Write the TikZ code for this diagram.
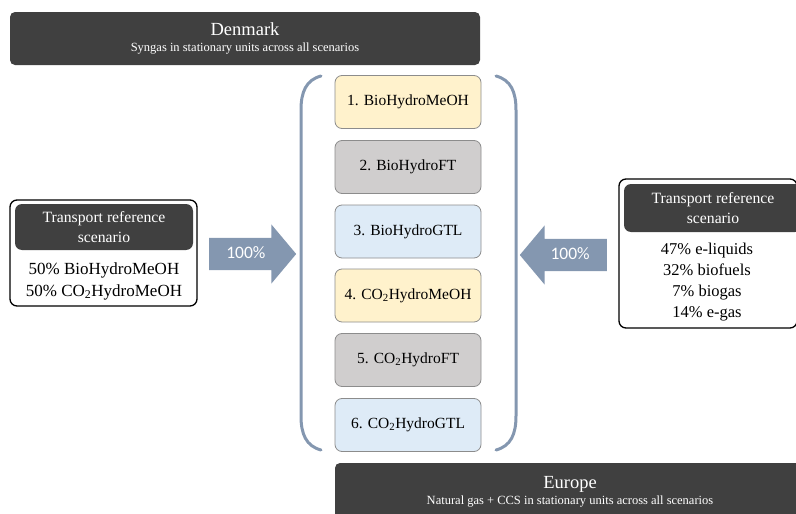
\documentclass[tikz,border=0pt]{standalone}
\usepackage{fontspec}
\setmainfont{Liberation Serif}
\newfontfamily\arrowfont{Carlito}
\usetikzlibrary{shapes.arrows, positioning}

\definecolor{darkbox}{HTML}{404040}
\definecolor{slateblue}{HTML}{8497B0}
\definecolor{paleyellow}{HTML}{FFF2CC}
\definecolor{palegray}{HTML}{D0CECE}
\definecolor{paleblue}{HTML}{DEEBF7}
\definecolor{boxedge}{HTML}{8C8C8C}

\newcommand{\cotwo}{CO\textsubscript{2}}

\tikzset{
  region/.style={fill=darkbox, rounded corners=5pt, text=white, align=center,
    font=\fontsize{12.5}{16.5}\selectfont},
  pathway/.style={draw=boxedge, line width=0.8pt, rounded corners=7pt,
    minimum width=146pt, minimum height=53pt, font=\fontsize{15.5}{18}\selectfont},
  frame/.style={draw=black, line width=1.3pt, rounded corners=7pt},
  header/.style={fill=darkbox, rounded corners=7pt, text=white, align=center,
    font=\fontsize{15.7}{20}\selectfont},
  flow/.style={single arrow, fill=slateblue, single arrow head extend=13.5pt,
    single arrow tip angle=100, minimum height=87pt, text height=10pt,
    text depth=2pt, inner ysep=10pt, inner xsep=0pt, text=white,
    font=\arrowfont\fontsize{17.5}{20}\selectfont},
  bracket/.style={draw=slateblue, line width=3pt, line cap=round},
}

\begin{document}
\begin{tikzpicture}[x=1pt, y=-1pt]
  \useasboundingbox (0,0) rectangle (796,514);
  \clip (0,0) rectangle (796,514);

  % regional bars
  \node[region, minimum width=470pt, minimum height=53pt] (denmark) at (245,38.5)
    {{\fontsize{18.5}{21}\selectfont Denmark}\\
     Syngas in stationary units across all scenarios};
  \node[region, minimum width=470pt, minimum height=58pt] (europe) at (570,492)
    {{\fontsize{18.5}{21}\selectfont Europe}\\
     Natural gas + CCS in stationary units across all scenarios};

  % pathways
  \node[pathway, fill=paleyellow] (p1) at (408,102)   {1. BioHydroMeOH};
  \node[pathway, fill=palegray]   (p2) at (408,167)   {2. BioHydroFT};
  \node[pathway, fill=paleblue]   (p3) at (408,231.5) {3. BioHydroGTL};
  \node[pathway, fill=paleyellow] (p4) at (408,295.5) {4. \cotwo HydroMeOH};
  \node[pathway, fill=palegray]   (p5) at (408,360)   {5. \cotwo HydroFT};
  \node[pathway, fill=paleblue]   (p6) at (408,425)   {6. \cotwo HydroGTL};

  % brackets round the pathways
  \draw[bracket] (321,76) .. controls (306,80) and (301,92) .. (301,110)
    -- (301,416) .. controls (301,434) and (306,446) .. (321,450);
  \draw[bracket] (496,76) .. controls (511,80) and (516,92) .. (516,110)
    -- (516,416) .. controls (516,434) and (511,446) .. (496,450);

  % left scenario
  \node[frame, minimum width=187pt, minimum height=106pt] (leftframe) at (103.5,253) {};
  \node[header, minimum width=178pt, minimum height=46pt] (lefthead) at (104,227)
    {Transport reference\\scenario};
  \node[align=center, font=\fontsize{17}{22}\selectfont] (leftmix) at (104,281)
    {50\% BioHydroMeOH\\50\% \cotwo HydroMeOH};

  % right scenario
  \node[frame, minimum width=178pt, minimum height=149pt] (rightframe) at (708,253.5) {};
  \node[header, minimum width=178pt, minimum height=48pt] (righthead) at (713,208)
    {Transport reference\\scenario};
  \node[align=center, font=\fontsize{16.5}{21}\selectfont] (rightmix) at (707,282)
    {47\% e-liquids\\32\% biofuels\\7\% biogas\\14\% e-gas};

  % shares flowing in
  \node[flow, anchor=tail] (leftflow) at (209,254) {100\%};
  \node[flow, anchor=tail, shape border rotate=180] (rightflow) at (607,255) {100\%};
\end{tikzpicture}
\end{document}
